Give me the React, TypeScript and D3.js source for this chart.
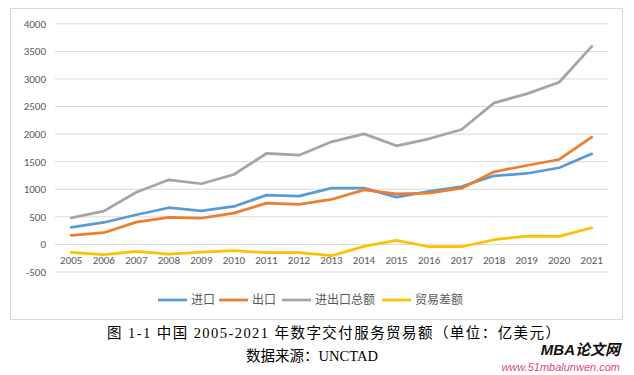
import React from "react";
import * as d3 from "d3";

const years = ["2005","2006","2007","2008","2009","2010","2011","2012","2013","2014","2015","2016","2017","2018","2019","2020","2021"];
const importVals = [308, 398, 538, 665, 610, 688, 893, 875, 1020, 1020, 857, 960, 1050, 1245, 1286, 1390, 1643];
const exportVals = [163, 212, 404, 489, 477, 567, 748, 725, 815, 990, 918, 930, 1020, 1317, 1431, 1540, 1944];
const totalVals = [480, 603, 947, 1172, 1100, 1268, 1649, 1618, 1860, 2005, 1788, 1915, 2083, 2567, 2730, 2940, 3592];
const balanceVals = [-145, -187, -127, -176, -139, -114, -150, -150, -205, -36, 72, -42, -42, 85, 150, 145, 302];
const yTicks = [-500, 0, 500, 1000, 1500, 2000, 2500, 3000, 3500, 4000];
const seriesNames = ["进口", "出口", "进出口总额", "贸易差额"];
const seriesColors = ["#5B9BD5", "#ED7D31", "#A5A5A5", "#FFC000"];
const caption = "图 1-1  中国 2005-2021 年数字交付服务贸易额（单位：亿美元）";
const source = "数据来源：UNCTAD";

export default function App() {
  const W = 634, H = 375;
  const x = d3.scaleBand().domain(years).range([55, 608]);
  const y = d3.scaleLinear().domain([-500, 4000]).range([272, 23.8]);
  const cx = (d: string) => (x(d) as number) + x.bandwidth() / 2;
  const line = d3.line<number>().x((_, i) => cx(years[i])).y((v) => y(v));
  const all = [importVals, exportVals, totalVals, balanceVals];
  const legendX = [158, 219, 282, 382];
  const fontTick = "Calibri, Carlito, 'Liberation Sans', 'Noto Sans CJK SC', sans-serif";
  const serif = "'Liberation Serif', 'Noto Sans CJK SC', serif";
  return (
    <svg width={W} height={H} style={{ position: "absolute", left: 0, top: 0 }}>
      <rect x={0} y={0} width={W} height={H} fill="#fff" />
      <rect x={10.5} y={8.5} width={612} height={311} fill="#fff" stroke="#d9d9d9" />
      {yTicks.map((t) => (
        <g key={t}>
          <line x1={55} x2={608} y1={y(t)} y2={y(t)} stroke="#d9d9d9" strokeWidth={1} />
          <text x={46} y={y(t)} dy="0.35em" textAnchor="end" fontSize={11} fill="#595959" fontFamily={fontTick}>{t}</text>
        </g>
      ))}
      {years.map((yr) => (
        <text key={yr} x={cx(yr)} y={264} textAnchor="middle" fontSize={11} fill="#595959" fontFamily={fontTick}>{yr}</text>
      ))}
      {all.map((vals, i) => (
        <path key={i} d={line(vals) as string} fill="none" stroke={seriesColors[i]} strokeWidth={2.75} strokeLinejoin="round" strokeLinecap="round" />
      ))}
      {seriesNames.map((n, i) => (
        <g key={n}>
          <line x1={legendX[i]} x2={legendX[i] + 29} y1={300} y2={300} stroke={seriesColors[i]} strokeWidth={2.75} />
          <text x={legendX[i] + 33} y={300} dy="0.35em" fontSize={12} fill="#595959" fontFamily={fontTick}>{n}</text>
        </g>
      ))}
      <text x={107} y={333} dy="0.35em" fontSize={14.5} fill="#000" fontFamily={serif} textLength={453} lengthAdjust="spacing">{caption}</text>
      <text x={246} y={356} dy="0.35em" fontSize={14.5} fill="#000" fontFamily={serif} textLength={132} lengthAdjust="spacing">{source}</text>
      <text x={620} y={355} textAnchor="end" fontSize={15} fontWeight="bold" fontStyle="italic" fill="#111" fontFamily="'Liberation Sans', 'Noto Sans CJK SC', sans-serif">MBA论文网</text>
      <text x={620} y={371} textAnchor="end" fontSize={11} fontStyle="italic" fill="#e04690" fontFamily="'Liberation Sans', sans-serif">www.51mbalunwen.com</text>
    </svg>
  );
}
